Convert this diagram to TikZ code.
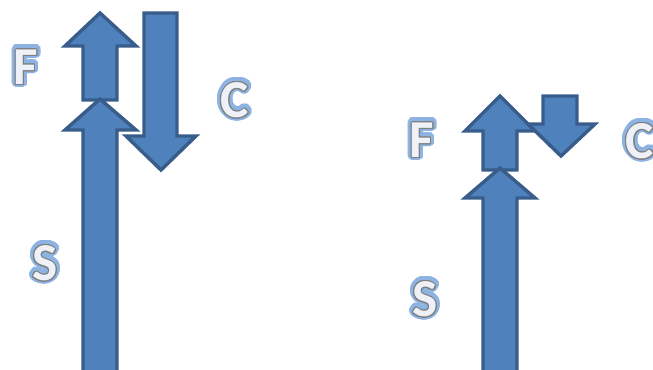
\documentclass[tikz,border=0pt]{standalone}
\usepackage{fontspec}
\setmainfont{Carlito}
\usepackage{contour}
\usepackage{tikz}
\definecolor{arrowfill}{HTML}{4F81BD}
\definecolor{arrowline}{HTML}{385D8A}
\definecolor{glowblue}{HTML}{8DB3E2}
\definecolor{lettergray}{HTML}{7F7F7F}
\definecolor{letterfill}{HTML}{EEF2F8}
\tikzstyle{force} = [fill=arrowfill, draw=arrowline, line width=2.6pt, line join=miter]
\tikzstyle{glow} = [inner sep=0pt, font=\fontsize{40}{40}\selectfont\bfseries]
\tikzstyle{letter} = [inner sep=0pt, font=\fontsize{40}{40}\selectfont\bfseries]
\newcommand{\glowtext}[1]{\contourlength{3pt}\contour[32]{glowblue}{\textcolor{glowblue}{#1}}}
\newcommand{\edgetext}[1]{\contourlength{0.8pt}\contour[16]{lettergray}{\textcolor{letterfill}{#1}}}

\begin{document}
\begin{tikzpicture}[x=0.75pt, y=-0.75pt]
\useasboundingbox (0,0) rectangle (653,369);

% left: F and S up, C down
\draw [force] (83,100) -- (83,46) -- (65,46) -- (100,13) -- (136,46) -- (117,46) -- (117,100) -- cycle;
\draw [force] (83,375) -- (83,130) -- (65,130) -- (100,99) -- (136,130) -- (117,130) -- (117,375) -- cycle;
\draw [force] (144,13) -- (177,13) -- (177,136) -- (196,136) -- (161,170) -- (126,136) -- (144,136) -- cycle;

% right: small C
\draw [force] (483,170) -- (483,131) -- (465,131) -- (500,96) -- (535,131) -- (517,131) -- (517,170) -- cycle;
\draw [force] (483,375) -- (483,198) -- (465,198) -- (500,168) -- (535,198) -- (517,198) -- (517,375) -- cycle;
\draw [force] (543,96) -- (577,96) -- (577,124) -- (595,124) -- (561,156) -- (528,124) -- (543,124) -- cycle;

% labels
\node (leftFglow)  [glow] at (26,68)   {\glowtext{F}};
\node (leftF)      [letter] at (leftFglow) {\edgetext{F}};
\node (leftCglow)  [glow] at (235,101) {\glowtext{C}};
\node (leftC)      [letter] at (leftCglow) {\edgetext{C}};
\node (leftSglow)  [glow] at (45,264)  {\glowtext{S}};
\node (leftS)      [letter] at (leftSglow) {\edgetext{S}};

\node (rightFglow) [glow] at (422,141) {\glowtext{F}};
\node (rightF)     [letter] at (rightFglow) {\edgetext{F}};
\node (rightCglow) [glow] at (640,142) {\glowtext{C}};
\node (rightC)     [letter] at (rightCglow) {\edgetext{C}};
\node (rightSglow) [glow] at (425,300) {\glowtext{S}};
\node (rightS)     [letter] at (rightSglow) {\edgetext{S}};

\end{tikzpicture}
\end{document}
